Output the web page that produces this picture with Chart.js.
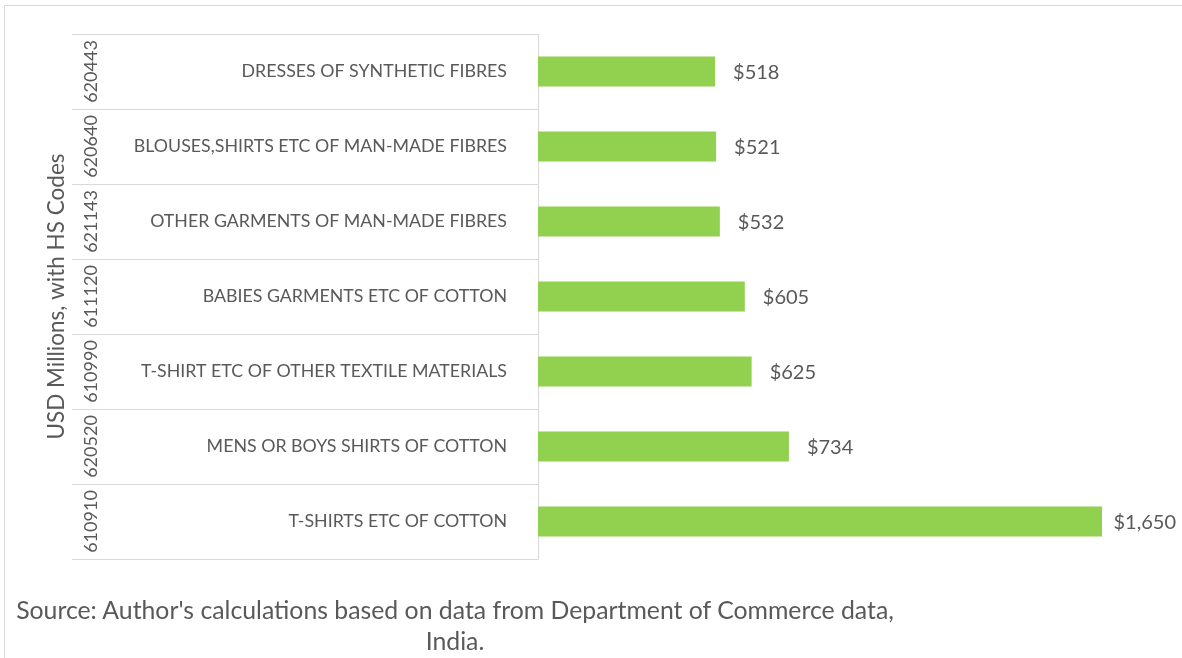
<!DOCTYPE html>
<html>
<head>
<meta charset="utf-8">
<script src="https://cdn.jsdelivr.net/npm/chart.js@4/dist/chart.umd.min.js"></script>
<style>
  html, body { margin: 0; padding: 0; background: #fff; }
  #wrap { position: relative; width: 1182px; height: 658px; overflow: hidden; }
  #frame { position: absolute; left: 4px; top: 5px; right: 0; bottom: 0;
           border-top: 1px solid #d9d9d9; border-left: 1px solid #d9d9d9; }
  #chart { position: absolute; left: 0; top: 0; }
  #source { position: absolute; left: 5px; top: 594px; width: 900px; text-align: center;
            font: 24.8px Lato, sans-serif; color: #595959; line-height: 31px; }
</style>
</head>
<body>
<div id="wrap">
  <div id="frame"></div>
  <canvas id="chart" width="1182" height="658"></canvas>
  <div id="source">Source: Author's calculations based on data from Department of Commerce data,<br>India.</div>
</div>
<script>
// HS codes and product names, top to bottom
const hsCodes = ["620443", "620640", "621143", "611120", "610990", "620520", "610910"];
const products = [
  "DRESSES OF SYNTHETIC FIBRES",
  "BLOUSES,SHIRTS ETC OF MAN-MADE FIBRES",
  "OTHER GARMENTS OF MAN-MADE FIBRES",
  "BABIES GARMENTS ETC OF COTTON",
  "T-SHIRT ETC OF OTHER TEXTILE MATERIALS",
  "MENS OR BOYS SHIRTS OF COTTON",
  "T-SHIRTS ETC OF COTTON"
];
// exports, USD millions
const exportValues = [518, 521, 532, 605, 625, 734, 1650];

const textColor = "#595959";
const fontFamily = "Lato, 'Open Sans', sans-serif";

const fmt = v => "$" + v.toLocaleString("en-US");

// draws the two-level category labels and the value labels
const labelsPlugin = {
  id: "labels",
  afterDatasetsDraw(chart) {
    const ctx = chart.ctx;
    const yScale = chart.scales.y;
    const area = chart.chartArea;
    const meta = chart.getDatasetMeta(0);
    ctx.save();
    ctx.fillStyle = textColor;
    ctx.textBaseline = "middle";

    products.forEach((name, i) => {
      const y = yScale.getPixelForValue(i);
      ctx.font = "17.8px " + fontFamily;
      ctx.textAlign = "right";
      ctx.fillText(name, area.left - 31, y);

      ctx.save();
      ctx.translate(area.left - 447, y);
      ctx.rotate(-Math.PI / 2);
      ctx.font = "18px " + fontFamily;
      ctx.textAlign = "center";
      ctx.fillText(hsCodes[i], 0, 0);
      ctx.restore();
    });

    ctx.font = "20px " + fontFamily;
    ctx.textAlign = "left";
    meta.data.forEach((bar, i) => {
      const txt = fmt(exportValues[i]);
      const w = ctx.measureText(txt).width;
      const x = Math.min(bar.x + 18, chart.width - w - 6);
      ctx.fillText(txt, x, bar.y + 1);
    });
    ctx.restore();
  }
};

new Chart(document.getElementById("chart"), {
  type: "bar",
  data: {
    labels: products,
    datasets: [{
      data: exportValues,
      backgroundColor: "#92D050",
      borderWidth: 0,
      barPercentage: 0.4,
      categoryPercentage: 1
    }]
  },
  options: {
    indexAxis: "y",
    responsive: false,
    animation: false,
    layout: { padding: { left: 43, right: 80, top: 34, bottom: 99 } },
    plugins: { legend: { display: false }, tooltip: { enabled: false } },
    scales: {
      x: { display: false, min: 0, max: Math.max(...exportValues) },
      y: {
        grid: { drawOnChartArea: false, tickLength: 466, color: "#d9d9d9", lineWidth: 1 },
        border: { color: "#d9d9d9" },
        ticks: { display: false },
        title: {
          display: true,
          text: "USD Millions, with HS Codes",
          color: textColor,
          font: { family: fontFamily, size: 22.5 },
          padding: { top: 0, bottom: 2 }
        }
      }
    }
  },
  plugins: [labelsPlugin]
});
</script>
</body>
</html>
